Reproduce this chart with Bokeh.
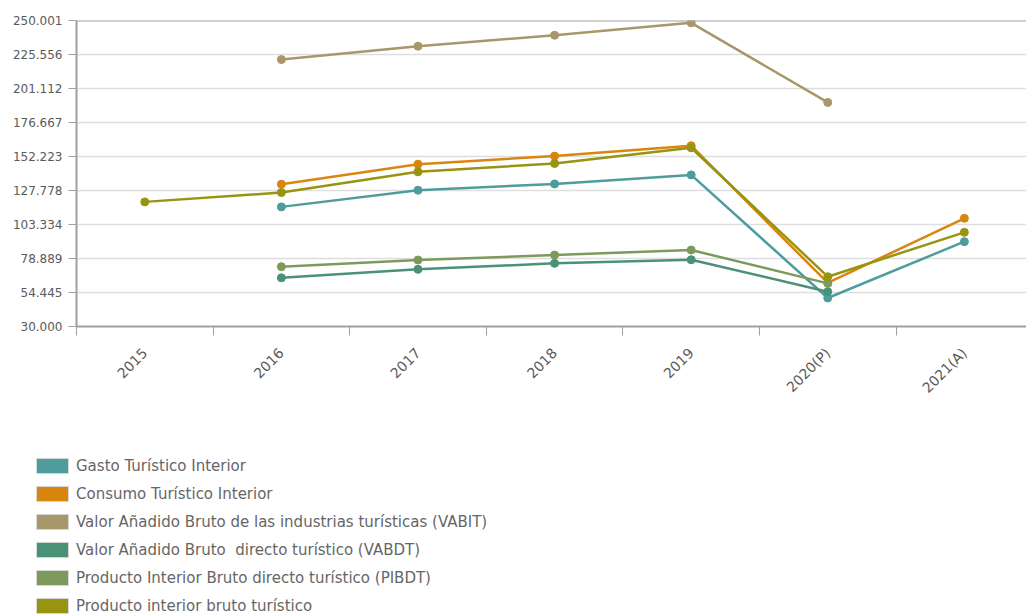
import math
from bokeh.plotting import figure
from bokeh.layouts import column
from bokeh.models import (Range1d, FixedTicker, Span, Legend, LegendItem,
                          ColumnDataSource)
from bokeh.embed import file_html
from bokeh.resources import INLINE

# Años de la serie
categories = ["2015", "2016", "2017", "2018", "2019", "2020(P)", "2021(A)"]

# Valores en millones de euros (NaN = sin dato)
nan = float("nan")
gasto_turistico_interior = [nan, 116000, 128000, 132500, 139000, 50500, 91000]
consumo_turistico_interior = [nan, 132300, 146700, 152500, 160000, 61300, 107800]
vabit = [nan, 221900, 231500, 239400, 248300, 191100, nan]
vabdt = [nan, 65000, 71100, 75400, 78000, 55000, nan]
pibdt = [nan, 73000, 77800, 81400, 85000, 61000, nan]
pib_turistico = [119600, 126300, 141200, 147200, 158500, 65800, 97700]

series_names = [
    "Gasto Turístico Interior",
    "Consumo Turístico Interior",
    "Valor Añadido Bruto de las industrias turísticas (VABIT)",
    "Valor Añadido Bruto  directo turístico (VABDT)",
    "Producto Interior Bruto directo turístico (PIBDT)",
    "Producto interior bruto turístico",
]
series_values = [gasto_turistico_interior, consumo_turistico_interior, vabit,
                 vabdt, pibdt, pib_turistico]
series_colors = ["#4f9c9c", "#d9860f", "#a8976a", "#4a9277", "#7d9a5c", "#979510"]

# Marcas del eje vertical y sus etiquetas
y_ticks = [30000, 54444.6, 78889.1, 103333.7, 127778.2, 152222.8,
           176667.3, 201111.9, 225556.4, 250001]
y_tick_labels = ["30.000", "54.445", "78.889", "103.334", "127.778",
                 "152.223", "176.667", "201.112", "225.556", "250.001"]

FONT = "DejaVu Sans"
TEXT = "#5a5a5a"
AXIS = "#a0a0a0"

x_idx = list(range(len(categories)))

p = figure(width=1026, height=420, output_backend="svg", toolbar_location=None,
           x_range=Range1d(-0.5, 6.455), y_range=Range1d(y_ticks[0], y_ticks[-1]),
           min_border_left=76, min_border_right=0, min_border_top=20,
           min_border_bottom=94)
p.frame_align = False
p.outline_line_color = None
p.background_fill_color = "white"
p.border_fill_color = "white"

# Eje X: etiquetas en el centro de cada año, marcas en los bordes
xa = p.xaxis[0]
xa.ticker = FixedTicker(ticks=x_idx, minor_ticks=[i - 0.5 for i in x_idx])
xa.major_label_overrides = {i: c for i, c in enumerate(categories)}
xa.major_label_orientation = math.pi / 4
xa.major_tick_line_color = None
xa.major_tick_out = 0
xa.minor_tick_out = 9
xa.minor_tick_in = 0
xa.minor_tick_line_color = AXIS
xa.minor_tick_line_width = 1
xa.axis_line_color = AXIS
xa.axis_line_width = 2
xa.major_label_text_font = FONT
xa.major_label_text_font_size = "14px"
xa.major_label_text_color = TEXT
xa.major_label_standoff = 15

ya = p.yaxis[0]
ya.ticker = FixedTicker(ticks=y_ticks)
ya.major_label_overrides = {t: s for t, s in zip(y_ticks, y_tick_labels)}
ya.major_tick_out = 8
ya.major_tick_in = 0
ya.major_tick_line_color = AXIS
ya.minor_tick_line_color = None
ya.axis_line_color = AXIS
ya.axis_line_width = 2
ya.major_label_text_font = FONT
ya.major_label_text_font_size = "12px"
ya.major_label_text_color = TEXT
ya.major_label_standoff = 6

p.xgrid.grid_line_color = None
p.ygrid.ticker = FixedTicker(ticks=y_ticks)
p.ygrid.grid_line_color = "#dedede"
p.ygrid.grid_line_width = 1.5

# Línea superior del área de trazado
p.add_layout(Span(location=y_ticks[-1], dimension="width",
                  line_color=AXIS, line_width=2))

for vals, col in zip(series_values, series_colors):
    src = ColumnDataSource(dict(x=x_idx, y=vals))
    p.line("x", "y", source=src, line_color=col, line_width=2.5)
    p.scatter("x", "y", source=src, size=8, fill_color=col, line_color=col)

# Leyenda en un panel propio bajo el gráfico
lg = figure(width=1026, height=196, output_backend="svg", toolbar_location=None,
            x_range=Range1d(0, 1), y_range=Range1d(0, 1),
            x_axis_location=None, y_axis_location=None,
            min_border=0, min_border_left=0, min_border_right=0,
            min_border_top=0, min_border_bottom=0)
lg.frame_align = False
lg.grid.visible = False
lg.outline_line_color = None
lg.border_fill_color = "white"

items = []
for name, col in zip(series_names, series_colors):
    sw = lg.quad(left=[nan], right=[nan], top=[nan], bottom=[nan],
                 fill_color=col, line_color="#d8d8d8", line_width=1)
    items.append(LegendItem(label=name, renderers=[sw]))

# Las muestras de área se dibujan al 80 % de la caja del glifo
legend = Legend(items=items, location=(32, 1), orientation="vertical",
                glyph_width=40, glyph_height=19, label_height=18,
                label_standoff=4, spacing=9, padding=0, margin=0,
                border_line_color=None, background_fill_alpha=0,
                label_text_font=FONT, label_text_font_size="15px",
                label_text_color="#666666")
lg.add_layout(legend, "center")

layout = column(p, lg, spacing=0)
open("out.html", "w").write(file_html(layout, INLINE))
